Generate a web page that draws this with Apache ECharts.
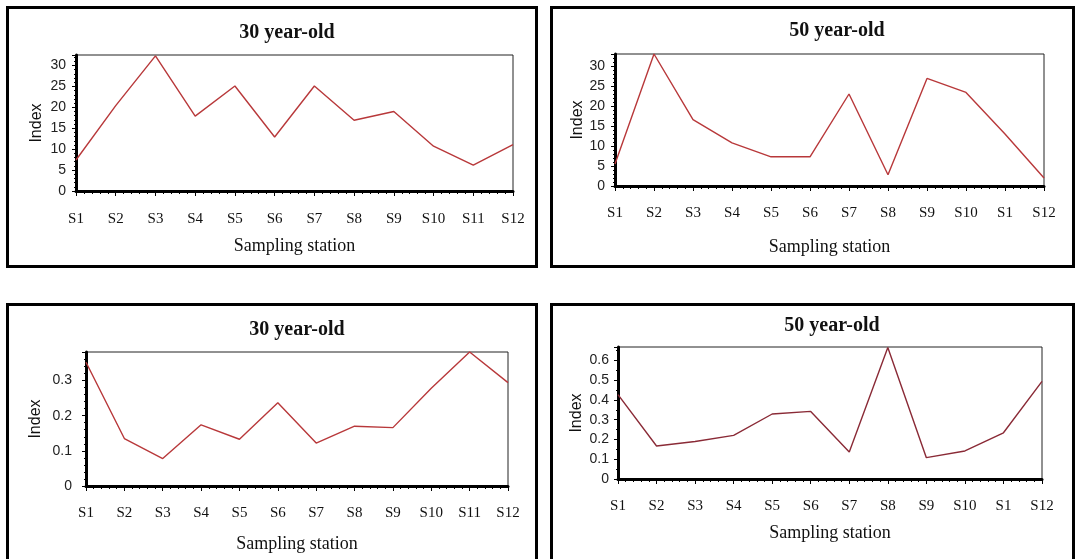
<!DOCTYPE html>
<html>
<head>
<meta charset="utf-8">
<script src="https://cdn.jsdelivr.net/npm/echarts@6/dist/echarts.min.js"></script>
<style>
  html, body { margin: 0; padding: 0; background: #fff; }
  #chart { width: 1078px; height: 559px; }
</style>
</head>
<body>
<div id="chart"></div>
<script>
// Station labels (the second set repeats "S1" at position 11, as printed)
const stationsA = ['S1','S2','S3','S4','S5','S6','S7','S8','S9','S10','S11','S12'];
const stationsB = ['S1','S2','S3','S4','S5','S6','S7','S8','S9','S10','S1','S12'];

// Index per sampling station
const index30a = [7.4, 20.4, 32.3, 17.9, 25.1, 12.9, 25.1, 16.9, 19.0, 10.7, 6.2, 11.1];
const index50a = [5.5, 33.0, 16.6, 10.8, 7.3, 7.3, 23.0, 2.8, 26.9, 23.4, 13.0, 2.0];
const index30b = [0.352, 0.135, 0.078, 0.174, 0.133, 0.237, 0.122, 0.170, 0.166, 0.278, 0.381, 0.294];
const index50b = [0.427, 0.167, 0.190, 0.221, 0.329, 0.342, 0.137, 0.665, 0.108, 0.142, 0.234, 0.494];

const titles = ['30 year-old', '50 year-old', '30 year-old', '50 year-old'];

const panels = [
  { title: titles[0], labels: stationsA, values: index30a, max: 32.5, interval: 5, minor: 5,
    grid: { left: 76, right: 565, top: 55, bottom: 368 }, titleX: 282, titleY: 18,
    xNameGap: 46, xLabelMargin: 21, yNameGap: 31, yLabelMargin: 10, color: '#b8383a' },
  { title: titles[1], labels: stationsB, values: index50a, max: 33, interval: 5, minor: 5,
    grid: { left: 615, right: 34, top: 54, bottom: 373 }, titleX: 832, titleY: 16,
    xNameGap: 52, xLabelMargin: 20, yNameGap: 29, yLabelMargin: 10, color: '#b8383a' },
  { title: titles[2], labels: stationsA, values: index30b, max: 0.381, interval: 0.1, minor: 5,
    grid: { left: 86, right: 570, top: 352, bottom: 73 }, titleX: 292, titleY: 315,
    xNameGap: 49, xLabelMargin: 20, yNameGap: 42, yLabelMargin: 14, color: '#b8383a' },
  { title: titles[3], labels: stationsB, values: index50b, max: 0.668, interval: 0.1, minor: 2,
    grid: { left: 618, right: 36, top: 347, bottom: 80 }, titleX: 827, titleY: 311,
    xNameGap: 45, xLabelMargin: 20, yNameGap: 33, yLabelMargin: 9, color: '#8a2a36' }
];

const serif = '"Liberation Serif", "Times New Roman", serif';
const sans = '"Liberation Sans", Arial, sans-serif';

const option = {
  backgroundColor: '#fff',
  animation: false,
  title: panels.map(p => ({
    text: p.title,
    left: p.titleX, top: p.titleY,
    textAlign: 'center',
    textStyle: { fontFamily: serif, fontWeight: 'bold', fontSize: 20, color: '#111' }
  })),
  grid: panels.map(p => Object.assign({
    show: true, borderColor: '#222', borderWidth: 1, backgroundColor: '#fff'
  }, p.grid)),
  xAxis: panels.map((p, i) => ({
    type: 'value', gridIndex: i, min: 0, max: p.labels.length - 1, interval: 1,
    name: 'Sampling station', nameLocation: 'middle', nameGap: p.xNameGap,
    nameTextStyle: { fontFamily: serif, fontSize: 18, color: '#111' },
    axisLine: { show: true, onZero: false, lineStyle: { color: '#000', width: 3 } },
    axisTick: { show: true, length: 5, lineStyle: { color: '#000', width: 1 } },
    minorTick: { show: true, splitNumber: 5, length: 3, lineStyle: { color: '#000', width: 1 } },
    splitLine: { show: false },
    axisLabel: {
      fontFamily: serif, fontSize: 15, color: '#111', margin: p.xLabelMargin,
      formatter: v => p.labels[Math.round(v)] || ''
    }
  })),
  yAxis: panels.map((p, i) => ({
    type: 'value', gridIndex: i, min: 0, max: p.max, interval: p.interval,
    name: 'Index', nameLocation: 'middle', nameGap: p.yNameGap, nameRotate: 90,
    nameTextStyle: { fontFamily: sans, fontSize: 16, color: '#111' },
    axisLine: { show: true, lineStyle: { color: '#000', width: 3 } },
    axisTick: { show: true, length: 4, lineStyle: { color: '#000', width: 1 } },
    minorTick: { show: true, splitNumber: p.minor, length: 2, lineStyle: { color: '#000', width: 1 } },
    splitLine: { show: false },
    axisLabel: {
      fontFamily: sans, fontSize: 14, color: '#222', margin: p.yLabelMargin,
      showMaxLabel: false,
      formatter: v => (p.interval < 1 ? String(Math.round(v * 10) / 10) : String(v))
    }
  })),
  series: panels.map((p, i) => ({
    type: 'line', xAxisIndex: i, yAxisIndex: i,
    showSymbol: false, clip: false,
    lineStyle: { color: p.color, width: 1.4 },
    data: p.values.map((v, k) => [k, v])
  })),
  graphic: [
    { type: 'rect', shape: { x: 7.5, y: 7.5, width: 529, height: 259 },
      style: { fill: 'none', stroke: '#000', lineWidth: 3 }, z: 100 },
    { type: 'rect', shape: { x: 551.5, y: 7.5, width: 522, height: 259 },
      style: { fill: 'none', stroke: '#000', lineWidth: 3 }, z: 100 },
    { type: 'rect', shape: { x: 7.5, y: 304.5, width: 529, height: 272 },
      style: { fill: 'none', stroke: '#000', lineWidth: 3 }, z: 100 },
    { type: 'rect', shape: { x: 551.5, y: 304.5, width: 522, height: 272 },
      style: { fill: 'none', stroke: '#000', lineWidth: 3 }, z: 100 }
  ]
};

const chart = echarts.init(document.getElementById('chart'), null, { renderer: 'canvas' });
chart.setOption(option);
</script>
</body>
</html>
